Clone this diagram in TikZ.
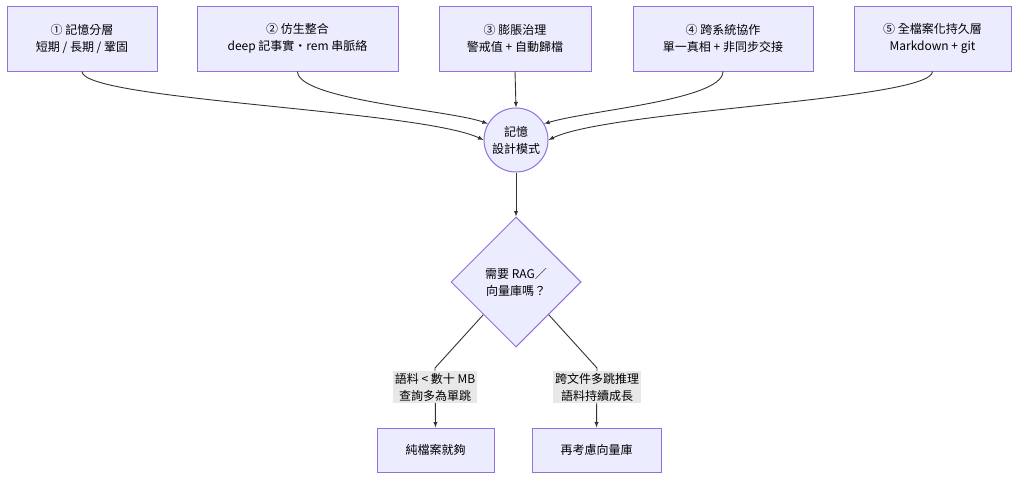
\documentclass[tikz,border=0pt]{standalone}
\usepackage{fontspec}
\setmainfont{Noto Sans CJK TC}
\usetikzlibrary{shapes.geometric,positioning}
\definecolor{boxfill}{HTML}{ECECFF}
\definecolor{boxline}{HTML}{9370DB}
\definecolor{edgeline}{HTML}{333333}
\definecolor{labelbg}{HTML}{E8E8E8}
\begin{document}
\begin{tikzpicture}[x=1pt,y=-1pt,
    font=\fontsize{12}{17}\selectfont,
    box/.style={draw=boxline,fill=boxfill,line width=1pt,align=center,inner sep=0pt},
    edge/.style={draw=edgeline,line width=0.9pt,-latex},
    lab/.style={fill=labelbg,align=center,inner sep=2pt}]
\useasboundingbox (0,0) rectangle (1024,482);

\node[box, minimum width=150pt, minimum height=65pt] (layer) at (82,38.5) {① 記憶分層\\短期 / 長期 / 鞏固};
\node[box, minimum width=201pt, minimum height=65pt] (bionic) at (297.5,38.5) {② 仿生整合\\deep 記事實・rem 串脈絡};
\node[box, minimum width=152pt, minimum height=65pt] (bloat) at (515,38.5) {③ 膨脹治理\\警戒值 + 自動歸檔};
\node[box, minimum width=180pt, minimum height=65pt] (cross) at (723,38.5) {④ 跨系統協作\\單一真相 + 非同步交接};
\node[box, minimum width=157pt, minimum height=65pt] (persist) at (932.5,38.5) {⑤ 全檔案化持久層\\Markdown + git};

\node[box, circle, minimum size=64pt] (pattern) at (516,140) {記憶\\設計模式};
\node[box, diamond, minimum width=130pt, minimum height=130pt] (needrag) at (516,282) {需要 RAG／\\向量庫嗎？};

\node[box, minimum width=117pt, minimum height=44pt] (plain) at (435.5,450) {純檔案就夠};
\node[box, minimum width=129pt, minimum height=44pt] (vector) at (596.5,450) {再考慮向量庫};

% 五個模式匯入核心
\draw[edge] (layer.south) .. controls (82,100) and (420,110) .. (pattern.west);
\draw[edge] (bionic.south) .. controls (298,100) and (450,110) .. (pattern.150);
\draw[edge] (bloat.south) -- (pattern.north);
\draw[edge] (cross.south) .. controls (723,100) and (590,110) .. (pattern.30);
\draw[edge] (persist.south) .. controls (932,100) and (610,110) .. (pattern.east);

\draw[edge] (pattern) -- (needrag);

% 分支
\draw[edge] (needrag.225) -- (435,368) -- (plain.north);
\draw[edge] (needrag.315) -- (597,368) -- (vector.north);
\node[lab] (smallcorpus) at (435,387) {語料 < 數十 MB\\查詢多為單跳};
\node[lab] (multihop) at (597,387) {跨文件多跳推理\\語料持續成長};
\end{tikzpicture}
\end{document}
